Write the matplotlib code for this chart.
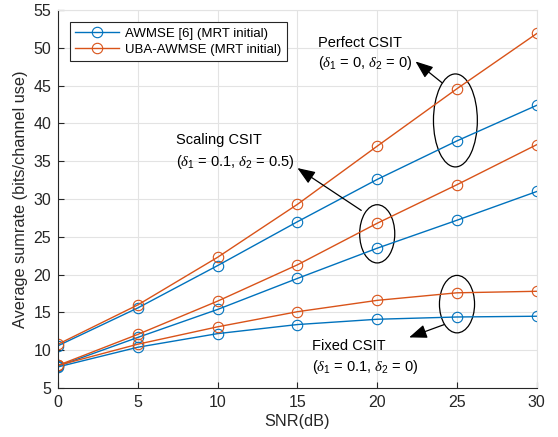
import matplotlib
matplotlib.use('Agg')
import matplotlib.pyplot as plt
from matplotlib.patches import Ellipse

plt.rcParams['font.family'] = ['Liberation Sans', 'DejaVu Sans']
plt.rcParams['mathtext.fontset'] = 'custom'
plt.rcParams['mathtext.it'] = 'Liberation Serif:italic'
plt.rcParams['mathtext.rm'] = 'Liberation Sans'

# 数据
snr = [0, 5, 10, 15, 20, 25, 30]
perfect_awmse = [10.6, 15.6, 21.2, 27.0, 32.6, 37.7, 42.4]
perfect_uba = [10.8, 16.0, 22.3, 29.3, 37.0, 44.6, 51.9]
scaling_awmse = [7.9, 11.7, 15.4, 19.5, 23.5, 27.2, 31.0]
scaling_uba = [8.0, 12.1, 16.5, 21.3, 26.8, 31.9, 37.2]
fixed_awmse = [7.8, 10.4, 12.2, 13.4, 14.1, 14.4, 14.5]
fixed_uba = [8.0, 10.8, 13.1, 15.1, 16.6, 17.6, 17.8]

blue = '#0072BD'
orange = '#D95319'

fig = plt.figure(figsize=(5.58, 4.37), dpi=100)
ax = fig.add_axes([0.104, 0.112, 0.858, 0.865])

mk = dict(marker='o', markersize=7.5, markerfacecolor='none', linewidth=1.0, markeredgewidth=0.8)
ax.plot(snr, perfect_awmse, color=blue, label='AWMSE [6] (MRT initial)', **mk)
ax.plot(snr, perfect_uba, color=orange, label='UBA-AWMSE (MRT initial)', **mk)
ax.plot(snr, scaling_awmse, color=blue, **mk)
ax.plot(snr, scaling_uba, color=orange, **mk)
ax.plot(snr, fixed_awmse, color=blue, **mk)
ax.plot(snr, fixed_uba, color=orange, **mk)

ax.set_xlim(0, 30)
ax.set_ylim(5, 55)
ax.set_xticks(range(0, 31, 5))
ax.set_yticks(range(5, 56, 5))
ax.grid(True, color='#e3e3e3', linewidth=0.8)
ax.set_axisbelow(True)
ax.tick_params(direction='in', labelsize=11.5, colors='#262626', length=4, pad=5)
for s in ['top', 'right']:
    ax.spines[s].set_color('#e3e3e3')
for s in ['left', 'bottom']:
    ax.spines[s].set_color('#262626')
ax.set_xlabel('SNR(dB)', fontsize=11.7, color='#262626', labelpad=3)
ax.set_ylabel('Average sumrate (bits/channel use)', fontsize=11.7, color='#262626', labelpad=4)

leg = ax.legend(loc='upper left', bbox_to_anchor=(0.025, 0.968), borderaxespad=0,
                fontsize=9.5, fancybox=False, edgecolor='#262626', framealpha=1,
                borderpad=0.4, handlelength=3.3, handletextpad=0.5, labelspacing=0.3)
leg.get_frame().set_linewidth(0.8)

# 椭圆标注
ax.add_patch(Ellipse((24.9, 40.4), 2.75, 12.3, fill=False, color='k', linewidth=0.9))
ax.add_patch(Ellipse((20.0, 25.4), 2.2, 7.7, fill=False, color='k', linewidth=0.9))
ax.add_patch(Ellipse((25.0, 16.1), 2.2, 7.6, fill=False, color='k', linewidth=0.9))

arrow = dict(arrowstyle='-|>,head_length=0.9,head_width=0.35', color='k', linewidth=0.9,
             shrinkA=0, shrinkB=0, mutation_scale=12)
ax.annotate('', xy=(22.4, 48.2), xytext=(24.05, 45.4), arrowprops=arrow)
ax.annotate('', xy=(15.0, 34.1), xytext=(19.0, 28.5), arrowprops=arrow)
ax.annotate('', xy=(22.0, 11.7), xytext=(24.2, 13.4), arrowprops=arrow)

tk = dict(fontsize=10.5, color='k', va='center', ha='left')
ax.text(16.3, 50.6, 'Perfect CSIT', **tk)
ax.text(16.3, 48.0, r'($\delta_1$ = 0, $\delta_2$ = 0)', **tk)
ax.text(7.4, 37.8, 'Scaling CSIT', **tk)
ax.text(7.4, 34.9, r'($\delta_1$ = 0.1, $\delta_2$ = 0.5)', **tk)
ax.text(15.9, 10.5, 'Fixed CSIT', **tk)
ax.text(15.9, 7.8, r'($\delta_1$ = 0.1, $\delta_2$ = 0)', **tk)

fig.savefig('out.png', dpi=100)
